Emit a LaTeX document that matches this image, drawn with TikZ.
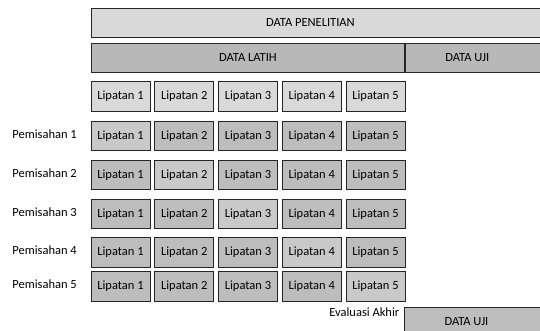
\documentclass[tikz,border=0pt]{standalone}
\usepackage{fontspec}
\setmainfont{Carlito}
\usepackage{xcolor}
\usepackage{tikz}
\usetikzlibrary{positioning}
\definecolor{BoxLine}{HTML}{262626}
\definecolor{LightFill}{HTML}{D9D9D9}
\definecolor{TrainFill}{HTML}{B8B8B8}
\definecolor{FoldFill}{HTML}{BDBDBD}
\definecolor{ValFill}{HTML}{C9C9C9}
\newcommand{\datafont}{\fontsize{12.5}{14}\selectfont}
\tikzset{
  databar/.style={draw=BoxLine,line width=0.9pt,inner sep=0pt,minimum height=29pt,font=\datafont},
  bartext/.style={font=\datafont,inner sep=0pt},
  foldbox/.style={draw=BoxLine,line width=0.9pt,inner sep=0pt,minimum width=59pt,minimum height=29.5pt,font=\datafont},
  splitlabel/.style={anchor=east,font=\datafont,inner sep=0pt}
}

\begin{document}
\begin{tikzpicture}[x=1pt,y=-1pt]
  \useasboundingbox (0,0) rectangle (540,331);
  \node[databar,fill=LightFill,minimum width=454pt,anchor=north west,label={[bartext,xshift=-8pt]center:DATA PENELITIAN}] (penelitian) at (91,8) {};
  \node[databar,fill=TrainFill,minimum width=313pt,anchor=north west] (latih) at (91,43) {DATA LATIH};
  \node[databar,fill=TrainFill,minimum width=141pt,anchor=west,label={[bartext,xshift=-8.5pt]center:DATA UJI}] (uji) at (latih.east) {};

  \foreach \i in {1,...,5}
    \node[foldbox,fill=LightFill] (fold\i) at ({120.5+63.75*(\i-1)},96.5) {Lipatan \i};

  \foreach \r/\y in {1/136,2/175,3/214,4/252.5,5/286.5} {
    \node[splitlabel] (pemisahan\r) at (77,\y-2) {Pemisahan \r};
    \foreach \i in {1,...,5} {
      \ifnum\i=\r \def\foldcol{ValFill}\else \def\foldcol{FoldFill}\fi
      \node[foldbox,fill=\foldcol] (split\r-\i) at ({120.5+63.75*(\i-1)},\y) {Lipatan \i};
    }
  }

  \node[splitlabel] (akhir) at (399.5,312) {Evaluasi Akhir};
  \node[databar,fill=FoldFill,minimum width=141pt,anchor=north west,label={[bartext,xshift=-8.5pt]center:DATA UJI}] (ujiakhir) at (404,307) {};
\end{tikzpicture}
\end{document}
